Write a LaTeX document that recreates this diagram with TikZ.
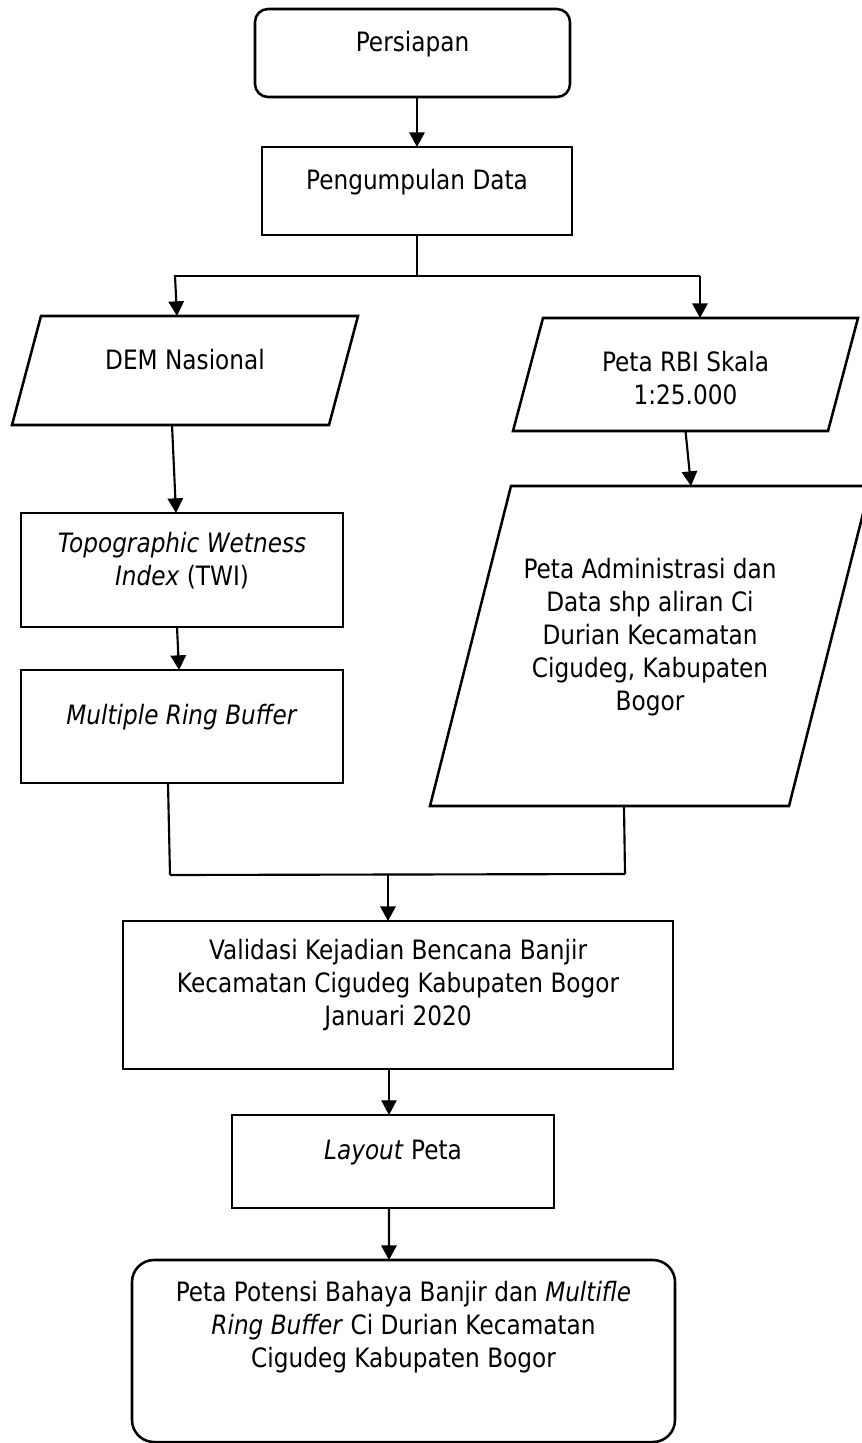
\documentclass[tikz,border=0pt]{standalone}
\usepackage{fontspec}
\setmainfont{DejaVu Sans}[FakeStretch=0.87]
\usetikzlibrary{arrows.meta}
\tikzset{
  frame/.style={draw, line width=1.9pt, inner sep=0pt, outer sep=0pt, rectangle},
  shapeonly/.style={draw=none, inner sep=0pt, outer sep=0pt, rectangle},
  txt/.style={align=center, font=\fontsize{20}{24.75}\selectfont, inner sep=0pt},
  conn/.style={line width=1.6pt},
  thinconn/.style={line width=0.8pt},
  arr/.style={-{Triangle[length=11pt,width=11.5pt]}}
}
\begin{document}
\begin{tikzpicture}[x=0.75pt,y=-0.75pt]
\useasboundingbox (0,0) rectangle (862,1443);
\clip (0,0) rectangle (862,1443);
\fill[white] (0,0) rectangle (862,1443);

% boxes
\node[frame, rounded corners=9.75pt, minimum width=236.25pt, minimum height=66pt,
      label={[txt,yshift=6.4pt]center:Persiapan}] (persiapan) at (412.5,53) {};
\node[frame, minimum width=232.5pt, minimum height=66pt,
      label={[txt,yshift=6.75pt]center:Pengumpulan Data}] (pengumpulan) at (417,191) {};

\node[shapeonly, minimum width=259.5pt, minimum height=81.75pt,
      label={[txt,yshift=7.9pt]center:DEM Nasional}] (dem) at (185,370.5) {};
\draw[frame] ([xshift=21.75pt]dem.north west) -- (dem.north east) -- ([xshift=-21.75pt]dem.south east) -- (dem.south west) -- cycle;

\node[shapeonly, minimum width=258.75pt, minimum height=84.75pt,
      label={[txt,yshift=-3pt]center:{Peta RBI Skala\\1:25.000}}] (rbi) at (685.5,374.5) {};
\draw[frame] ([xshift=22.5pt]rbi.north west) -- (rbi.north east) -- ([xshift=-22.5pt]rbi.south east) -- (rbi.south west) -- cycle;

\node[frame, minimum width=241.5pt, minimum height=85.5pt,
      label={[txt,yshift=7.1pt]center:{\textit{Topographic Wetness}\\\textit{Index} (TWI)}}] (twi) at (182,570) {};
\node[frame, minimum width=241.5pt, minimum height=84.75pt,
      label={[txt,yshift=7.1pt]center:\textit{Multiple Ring Buffer}}] (mrb) at (182,726.5) {};

\node[shapeonly, minimum width=330pt, minimum height=240pt,
      label={[txt,yshift=6.75pt]center:{Peta Administrasi dan\\Data shp aliran Ci\\Durian Kecamatan\\Cigudeg, Kabupaten\\Bogor}}] (admin) at (650,646) {};
\draw[frame] ([xshift=60.75pt]admin.north west) -- (admin.north east) -- ([xshift=-60.75pt]admin.south east) -- (admin.south west) -- cycle;

\node[frame, minimum width=412.5pt, minimum height=111pt,
      label={[txt,yshift=7.5pt]center:{Validasi Kejadian Bencana Banjir\\Kecamatan Cigudeg Kabupaten Bogor\\Januari 2020}}] (validasi) at (398,995) {};
\node[frame, minimum width=241.5pt, minimum height=69.75pt,
      label={[txt,yshift=6.4pt]center:{\textit{Layout} Peta}}] (layout) at (393,1161.5) {};
\node[frame, rounded corners=16.5pt, minimum width=407.25pt, minimum height=136.5pt,
      label={[txt,yshift=18pt]center:{Peta Potensi Bahaya Banjir dan \textit{Multifle}\\\textit{Ring Buffer} Ci Durian Kecamatan\\Cigudeg Kabupaten Bogor}}] (final) at (403.5,1351) {};

% junction points
\coordinate (split) at (417,275);
\coordinate (splitL) at (174,276);
\coordinate (splitR) at (700,276);
\coordinate (joinL) at (170,875);
\coordinate (joinR) at (625,874);
\coordinate (joinM) at (388,874.5);

% connectors
\draw[conn,arr] (persiapan.south -| pengumpulan.north) -- (pengumpulan.north);
\draw[conn] (pengumpulan.south) -- (split);
\draw[conn] (splitL) -- (splitR);
\draw[conn,arr] ([xshift=0.75pt]splitL) -- ([xshift=-6pt]dem.north);
\draw[conn,arr] (splitR) -- (splitR |- rbi.north);
\draw[conn,arr] ([xshift=-9.75pt]dem.south) -- ([xshift=-4.5pt]twi.north);
\draw[conn,arr] (rbi.south) -- ([xshift=30.75pt]admin.north);
\draw[conn,arr] ([xshift=-3.75pt]twi.south) -- ([xshift=-2.25pt]mrb.north);
\draw[conn] ([xshift=-10.5pt]mrb.south) -- (joinL);
\draw[conn] ([xshift=-19.5pt]admin.south) -- (joinR);
\draw[conn] (joinL) -- (joinR);
\draw[conn,arr] (joinM) -- ([xshift=-7.5pt]validasi.north);
\draw[thinconn,arr] ([xshift=-6.75pt]validasi.south) -- ([xshift=-3pt]layout.north);
\draw[conn,arr] ([xshift=-3pt]layout.south) -- ([xshift=-10.9pt]final.north);
\end{tikzpicture}
\end{document}
